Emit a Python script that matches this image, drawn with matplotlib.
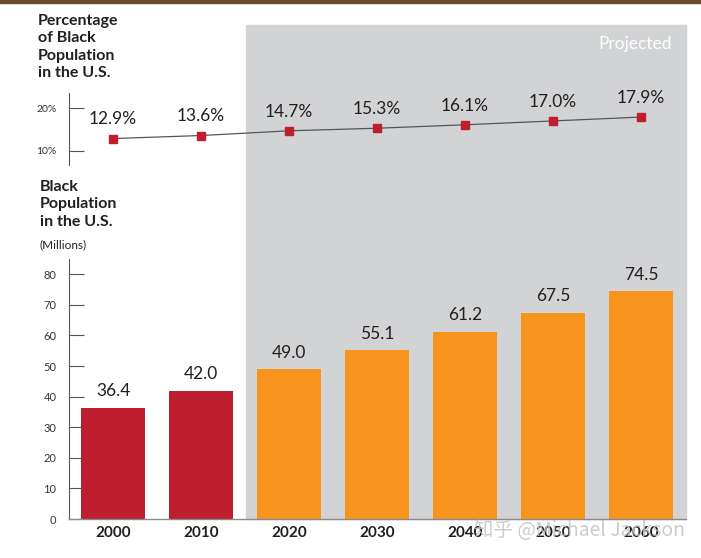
import matplotlib
matplotlib.use("Agg")
from matplotlib import pyplot as plt
from matplotlib.patches import Rectangle

plt.rcParams['font.family'] = ['Lato', 'DejaVu Sans']

# data
years = ["2000", "2010", "2020", "2030", "2040", "2050", "2060"]
population = [36.4, 42.0, 49.0, 55.1, 61.2, 67.5, 74.5]
share = [12.9, 13.6, 14.7, 15.3, 16.1, 17.0, 17.9]
projected = [False, False, True, True, True, True, True]

RED = "#BE1E2D"
ORANGE = "#F7941E"
GRAY = "#D1D3D4"
TXT = "#231F20"

W, H = 701, 558
fig = plt.figure(figsize=(W / 100, H / 100), dpi=100)


def fx(px):
    return px / W


def fy(py):
    return 1 - py / H


# brown strip at top and the gray "projected" panel
fig.patches.append(Rectangle((0, fy(3)), 1, 3 / H, transform=fig.transFigure,
                             color="#6B4A2E", zorder=-2))
fig.patches.append(Rectangle((fx(246), fy(519)), fx(686) - fx(246), (519 - 25) / H,
                             transform=fig.transFigure, color=GRAY, zorder=-2))
fig.text(fx(672), fy(44), "Projected", color="white", fontsize=12.5,
         ha="right", va="center")

xs = list(range(len(years)))

# bar chart
axb = fig.add_axes([fx(69), fy(519), fx(686) - fx(69), (519 - 259) / H])
axb.patch.set_alpha(0)
cols = [ORANGE if p else RED for p in projected]
axb.bar(xs, population, width=0.727, color=cols, zorder=2)
for x, v in zip(xs, population):
    axb.annotate(f"{v:.1f}", (x, v), xytext=(0, 6), textcoords="offset points",
                 ha="center", va="bottom", fontsize=12.5, color=TXT)
axb.set_xlim(-0.5, 6.51)
axb.set_ylim(0, 85)
axb.set_yticks(range(0, 90, 10))
axb.set_xticks(xs)
axb.set_xticklabels(years, fontweight="bold", fontsize=11, color=TXT)
axb.tick_params(axis="x", length=0, pad=5)
axb.tick_params(axis="y", direction="in", length=11, width=0.8, color="#555555",
                labelsize=8, labelcolor="#333333", pad=9)
for s in ["top", "right"]:
    axb.spines[s].set_visible(False)
axb.spines["left"].set_color("#555555")
axb.spines["bottom"].set_color("#8a8a8a")
axb.spines["left"].set_linewidth(0.8)
axb.spines["bottom"].set_linewidth(1.0)

# percentage line
axl = fig.add_axes([fx(69), fy(165), fx(686) - fx(69), (165 - 93) / H])
axl.patch.set_alpha(0)
axl.plot(xs, share, color="#555555", lw=0.9, marker="s", markersize=6,
         markerfacecolor=RED, markeredgecolor=RED)
for x, v in zip(xs, share):
    axl.annotate(f"{v:.1f}%", (x, v), xytext=(0, 8), textcoords="offset points",
                 ha="center", va="bottom", fontsize=12.5, color=TXT)
axl.set_xlim(-0.5, 6.51)
axl.set_ylim(6.74, 23.5)
axl.set_yticks([10, 20])
axl.set_yticklabels(["10%", "20%"])
axl.set_xticks([])
axl.tick_params(axis="y", direction="in", length=11, width=0.8, color="#555555",
                labelsize=7.5, labelcolor="#333333", pad=9)
for s in ["top", "right", "bottom"]:
    axl.spines[s].set_visible(False)
axl.spines["left"].set_color("#555555")
axl.spines["left"].set_linewidth(0.8)

# titles
fig.text(fx(38), fy(14), "Percentage\nof Black\nPopulation\nin the U.S.",
         fontsize=11.5, fontweight="bold", color=TXT, va="top", ha="left",
         linespacing=1.3)
fig.text(fx(40), fy(180), "Black\nPopulation\nin the U.S.",
         fontsize=11.5, fontweight="bold", color=TXT, va="top", ha="left",
         linespacing=1.3)
fig.text(fx(40), fy(245), "(Millions)", fontsize=8.5, color=TXT,
         va="center", ha="left")

# watermark
fig.text(fx(685), fy(530), "知乎 @Michael Jackson", fontsize=14,
         family=['Noto Sans CJK SC', 'DejaVu Sans'], color="#c4c4c4", alpha=0.85,
         ha="right", va="center")

fig.savefig("out.png", dpi=100)
